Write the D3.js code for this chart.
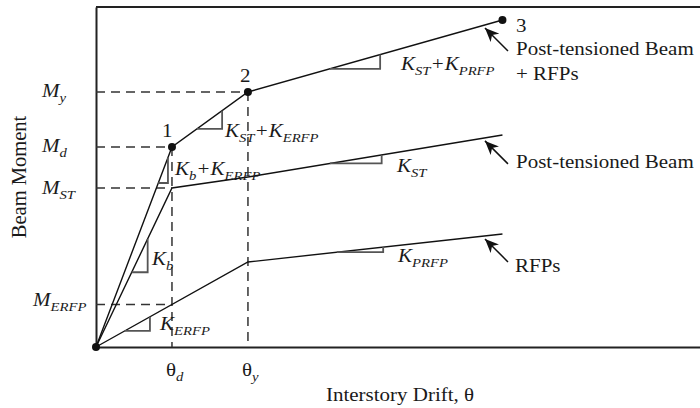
<!DOCTYPE html>
<html>
<head>
<meta charset="utf-8">
<script src="https://cdn.jsdelivr.net/npm/d3@7"></script>
<style>
  body { margin: 0; background: #fff; }
</style>
</head>
<body>
<script>
// drift in units of theta_d, moment in arbitrary units
var totalDrift = [0, 1, 2, 5.35];
var totalMoment = [0, 200, 255, 327];
var ptDrift = [0, 1, 2, 5.35];
var ptMoment = [0, 159, 170, 212];
var rfpDrift = [0, 2, 5.35];
var rfpMoment = [0, 85, 113];

var momentTicks = [255, 200, 159, 42.5];
var momentTickDrift = [2, 1, 1, 1];   // how far the dashed guide runs
var momentTickLabels = [["M", "y"], ["M", "d"], ["M", "ST"], ["M", "ERFP"]];
var driftTicks = [1, 2];
var driftTickMoment = [200, 255];
var driftTickLabels = [["θ", "d"], ["θ", "y"]];

var FONT = "'Liberation Serif', 'Times New Roman', serif";
var SY = 0.85;

var w = 700, h = 408;
var svg = d3.select("body").append("svg")
    .attr("width", w)
    .attr("height", h);

var x = d3.scaleLinear().domain([0, 7.95]).range([96, 700]);
var y = d3.scaleLinear().domain([0, 340]).range([347, 7]);

// piecewise linear curves
var total = d3.scaleLinear().domain(totalDrift).range(totalMoment);
var pt = d3.scaleLinear().domain(ptDrift).range(ptMoment);
var rfp = d3.scaleLinear().domain(rfpDrift).range(rfpMoment);

// frame
svg.append("g")
    .attr("transform", "translate(0," + y(0) + ")")
    .call(d3.axisBottom(x).tickValues(driftTicks).tickSize(0).tickSizeOuter(0).tickFormat(""))
    .call(function (g) { g.select(".domain").attr("stroke", "#222").attr("stroke-width", 2); });
svg.append("g")
    .attr("transform", "translate(" + x(0) + ",0)")
    .call(d3.axisLeft(y).tickValues(momentTicks).tickSize(0).tickSizeOuter(0).tickFormat(""))
    .call(function (g) { g.select(".domain").attr("stroke", "#222").attr("stroke-width", 2); });
svg.append("line")
    .attr("x1", x(0)).attr("x2", w)
    .attr("y1", y(340)).attr("y2", y(340))
    .attr("stroke", "#222").attr("stroke-width", 2);

// dashed guides
momentTicks.forEach(function (m, i) {
    svg.append("line")
        .attr("x1", x(0)).attr("x2", x(momentTickDrift[i]))
        .attr("y1", y(m)).attr("y2", y(m))
        .attr("stroke", "#333").attr("stroke-width", 1.5)
        .attr("stroke-dasharray", "9,6");
});
driftTicks.forEach(function (t, i) {
    svg.append("line")
        .attr("x1", x(t)).attr("x2", x(t))
        .attr("y1", y(driftTickMoment[i])).attr("y2", y(0))
        .attr("stroke", "#333").attr("stroke-width", 1.5)
        .attr("stroke-dasharray", "9,6");
});

// response curves
var line = d3.line()
    .x(function (d) { return x(d[0]); })
    .y(function (d) { return y(d[1]); });

[[totalDrift, totalMoment], [ptDrift, ptMoment], [rfpDrift, rfpMoment]].forEach(function (s) {
    svg.append("path")
        .attr("d", line(d3.zip(s[0], s[1])))
        .attr("fill", "none")
        .attr("stroke", "#111")
        .attr("stroke-width", 1.4);
});

// slope triangles
var slopeTriangles = [
    { curve: pt, from: 0.47, to: 0.68 },
    { curve: total, from: 0.82, to: 0.947 },
    { curve: total, from: 1.33, to: 1.66 },
    { curve: total, from: 3.08, to: 3.74 },
    { curve: pt, from: 3.08, to: 3.76 },
    { curve: rfp, from: 3.17, to: 3.78 },
    { curve: rfp, from: 0.38, to: 0.71 }
];
slopeTriangles.forEach(function (s) {
    var y1 = y(s.curve(s.from)), y2 = y(s.curve(s.to));
    svg.append("path")
        .attr("d", "M" + x(s.from) + "," + y1 + "H" + x(s.to) + "V" + y2)
        .attr("fill", "none")
        .attr("stroke", "#555")
        .attr("stroke-width", 1.8);
});

// key points
svg.selectAll("circle.pt")
    .data(d3.zip(totalDrift, totalMoment))
    .enter()
    .append("circle")
    .attr("cx", function (d) { return x(d[0]); })
    .attr("cy", function (d) { return y(d[1]); })
    .attr("r", 4)
    .attr("fill", "#111");

// text helper: parts = [[text, isSub], ...]
function label(px, py, parts, italic, size) {
    size = size || 21;
    var t = svg.append("text")
        .attr("transform", "translate(" + px + "," + py + ") scale(1," + SY + ")")
        .attr("font-family", FONT)
        .attr("font-size", size)
        .attr("fill", "#1a1a1a");
    if (italic) t.attr("font-style", "italic");
    var shift = 0;
    parts.forEach(function (p) {
        var sp = t.append("tspan").text(p[0]);
        if (p[1]) {
            sp.attr("font-size", size * 0.7).attr("font-style", "italic").attr("dy", 6 - shift);
            shift = 6;
        } else {
            sp.attr("dy", -shift);
            shift = 0;
        }
    });
    return t;
}

// tick labels
var mLabelPos = [[42, 97], [42, 152], [42, 194], [33, 306]];
momentTickLabels.forEach(function (l, i) {
    label(mLabelPos[i][0], mLabelPos[i][1], [[l[0], false], [l[1], true]], true);
});
driftTicks.forEach(function (t, i) {
    label(x(t) - 6, 376, [[driftTickLabels[i][0], false], [driftTickLabels[i][1], true]], false);
});

// point numbers
label(162, 137, [["1", false]]);
label(240, 82, [["2", false]]);
label(516, 32, [["3", false]]);

// slope labels
label(175, 175, [["K", false], ["b", true], ["+K", false], ["ERFP", true]], true);
label(225, 137, [["K", false], ["ST", true], ["+K", false], ["ERFP", true]], true);
label(401, 70, [["K", false], ["ST", true], ["+K", false], ["PRFP", true]], true);
label(397, 172, [["K", false], ["ST", true]], true);
label(398, 262, [["K", false], ["PRFP", true]], true);
label(152, 265, [["K", false], ["b", true]], true);
label(160, 330, [["K", false], ["ERFP", true]], true);

// series labels with arrows
svg.append("defs").append("marker")
    .attr("id", "head")
    .attr("viewBox", "-14 -6 16 12")
    .attr("refX", 0).attr("refY", 0)
    .attr("markerWidth", 16).attr("markerHeight", 12)
    .attr("markerUnits", "userSpaceOnUse")
    .attr("orient", "auto")
    .append("path")
    .attr("d", "M0,0L-14,-6L-10,0L-14,6Z")
    .attr("fill", "#111");

var arrowAt = 5.12;
[total, pt, rfp].forEach(function (c, i) {
    var tx = x(arrowAt), ty = y(c(arrowAt)) + 3;
    svg.append("line")
        .attr("x1", tx + 23).attr("y1", ty + 23)
        .attr("x2", tx).attr("y2", ty)
        .attr("stroke", "#111").attr("stroke-width", 1.5)
        .attr("marker-end", "url(#head)");
});
label(516, 55, [["Post-tensioned Beam", false]]);
label(516, 80, [["+ RFPs", false]]);
label(516, 168, [["Post-tensioned Beam", false]]);
label(515, 272, [["RFPs", false]]);

// axis titles
label(326, 401, [["Interstory Drift, θ", false]]);
svg.append("text")
    .attr("transform", "translate(26,177) rotate(-90)")
    .attr("text-anchor", "middle")
    .attr("font-family", FONT)
    .attr("font-size", 20.5)
    .attr("fill", "#1a1a1a")
    .text("Beam Moment");
</script>
</body>
</html>
